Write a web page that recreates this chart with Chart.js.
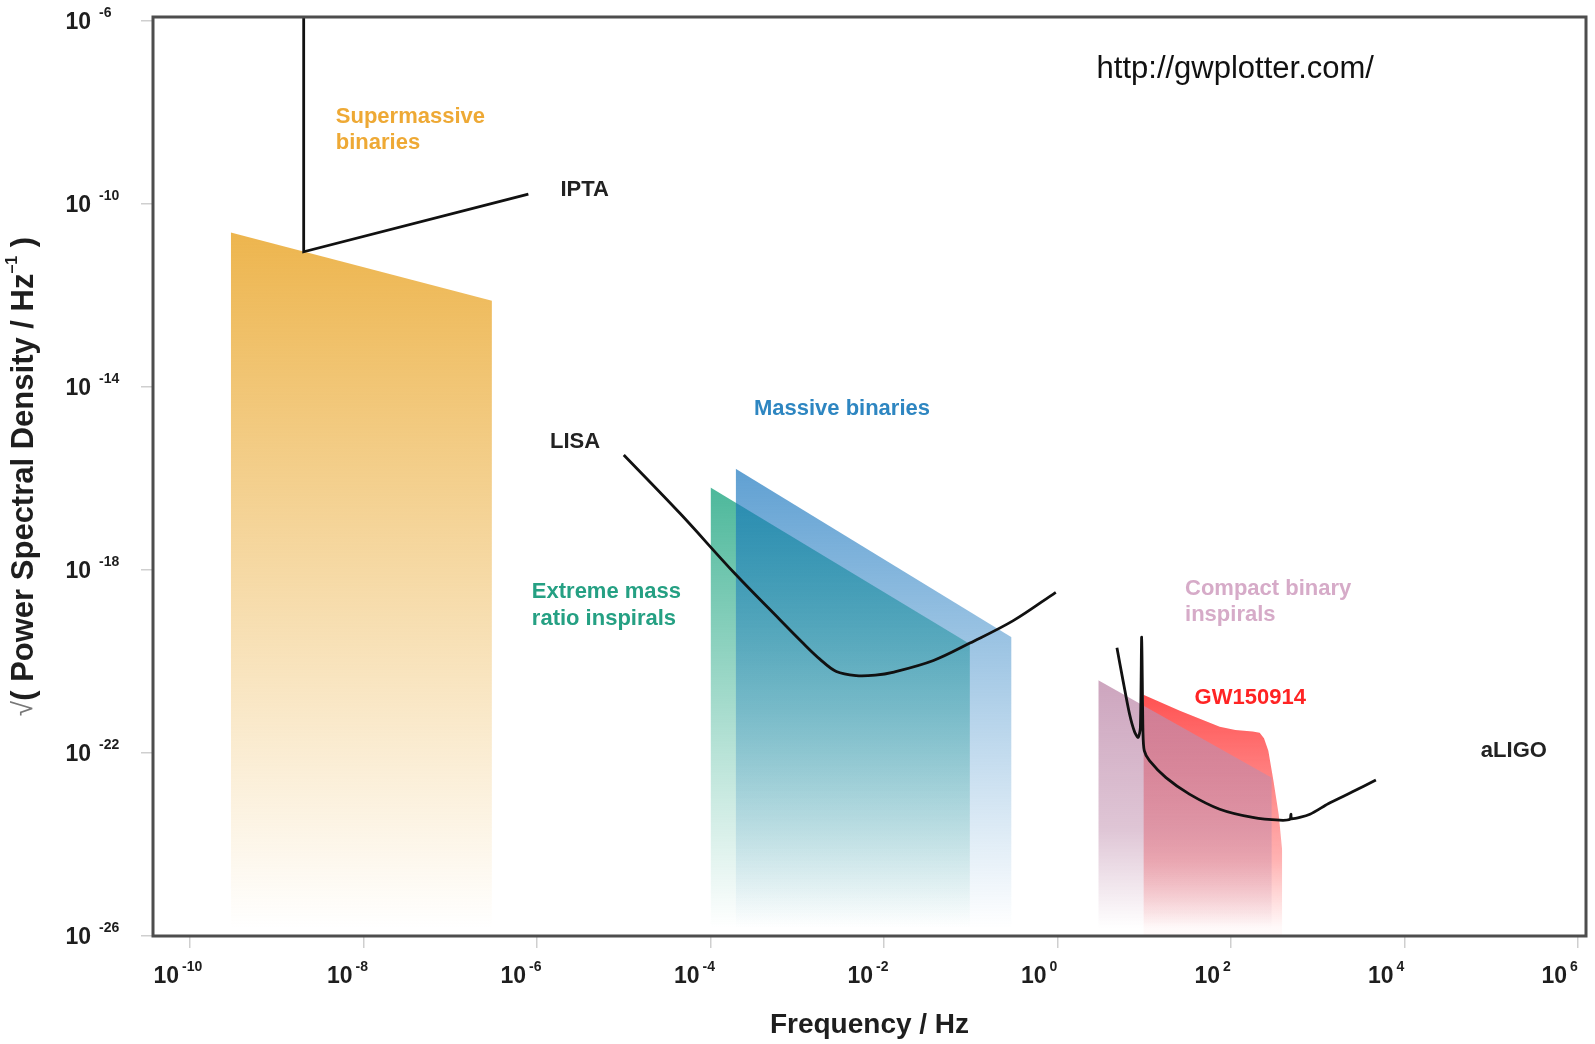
<!DOCTYPE html>
<html>
<head>
<meta charset="utf-8">
<title>Gravitational wave spectrum</title>
<script src="https://cdn.jsdelivr.net/npm/chart.js@4.4.1/dist/chart.umd.min.js"></script>
<style>
  html, body { margin: 0; padding: 0; background: #ffffff; }
  #gw-wrap { width: 1595px; height: 1044px; position: relative; }
</style>
</head>
<body>
<div id="gw-wrap"><canvas id="gw-chart"></canvas></div>
<script>
// Tick decades (labels are drawn as 10^n)
const xTickExps = [-10, -8, -6, -4, -2, 0, 2, 4, 6];
const yTickExps = [-26, -22, -18, -14, -10, -6];

// Values: log10(frequency / Hz) and log10(sqrt(PSD / Hz^-1))
const smbhLogF = [-9.53, -6.52];
const smbhLogH = [-10.63, -12.12];

const iptaLogF = [-8.69, -8.69, -6.10];
const iptaLogH = [-5.92, -11.05, -9.79];

const emriLogF = [-4.00, -1.01];
const emriLogH = [-16.20, -19.62];

const mbhLogF = [-3.71, -0.53];
const mbhLogH = [-15.79, -19.47];

const lisaLogF = [-5.00, -4.35, -3.72, -3.20, -2.95, -2.74, -2.55, -2.32, -2.10, -1.90, -1.43, -1.01, -0.51, -0.02];
const lisaLogH = [-15.49, -16.77, -18.08, -19.09, -19.57, -19.95, -20.22, -20.31, -20.30, -20.24, -19.98, -19.60, -19.11, -18.49];

const cbcLogF = [0.47, 2.47];
const cbcLogH = [-20.41, -22.54];

const gwLogF = [0.99, 1.41, 1.87, 2.05, 2.25, 2.33, 2.38, 2.43, 2.49, 2.55, 2.59];
const gwLogH = [-20.73, -21.08, -21.43, -21.50, -21.53, -21.56, -21.68, -21.95, -22.62, -23.35, -24.14];

const aligoLogF = [0.685, 0.755, 0.83, 0.89, 0.93, 0.955, 0.970, 0.985, 1.00, 1.06, 1.25, 1.52, 1.87, 2.25, 2.56, 2.68, 2.69, 2.70, 2.91, 3.12, 3.40, 3.67];
const aligoLogH = [-19.70, -20.42, -21.15, -21.55, -21.66, -21.45, -19.47, -21.55, -21.95, -22.17, -22.54, -22.90, -23.23, -23.41, -23.47, -23.45, -23.34, -23.44, -23.34, -23.11, -22.85, -22.59];

// Text annotations placed in data coordinates
const notes = [
  { text: 'Supermassive',     f: -8.32, h: -8.11,  color: '#eea935' },
  { text: 'binaries',         f: -8.32, h: -8.68,  color: '#eea935' },
  { text: 'IPTA',             f: -5.73, h: -9.69,  color: '#222222' },
  { text: 'LISA',             f: -5.85, h: -15.20, color: '#222222' },
  { text: 'Massive binaries', f: -3.50, h: -14.49, color: '#2e86c1' },
  { text: 'Extreme mass',     f: -6.06, h: -18.48, color: '#25a083' },
  { text: 'ratio inspirals',  f: -6.06, h: -19.08, color: '#25a083' },
  { text: 'Compact binary',   f: 1.47,  h: -18.41, color: '#d6abc8' },
  { text: 'inspirals',        f: 1.47,  h: -18.99, color: '#d6abc8' },
  { text: 'GW150914',         f: 1.58,  h: -20.79, color: '#ff2424' },
  { text: 'aLIGO',            f: 4.88,  h: -21.95, color: '#222222' }
];

const FONT = "'Liberation Sans', Arial, Helvetica, sans-serif";
Chart.defaults.font.family = FONT;

function toPoints(lf, lh) {
  return lf.map((f, i) => ({ x: Math.pow(10, f), y: Math.pow(10, lh[i]) }));
}

// vertical fade from the top of a band down to the x axis
function fade(rgb, topLog, stops) {
  return function (context) {
    const chart = context.chart;
    const area = chart.chartArea;
    if (!area) return 'rgba(0,0,0,0)';
    const top = chart.scales.y.getPixelForValue(Math.pow(10, topLog));
    const g = chart.ctx.createLinearGradient(0, top, 0, area.bottom - 8);
    stops.forEach(s => g.addColorStop(s[0], 'rgba(' + rgb + ',' + s[1] + ')'));
    return g;
  };
}

function band(label, lf, lh, rgb, stops, order) {
  return {
    label: label,
    data: toPoints(lf, lh),
    fill: 'start',
    backgroundColor: fade(rgb, Math.max.apply(null, lh), stops),
    borderWidth: 0,
    borderColor: 'rgba(0,0,0,0)',
    pointRadius: 0,
    tension: 0,
    order: order
  };
}

function curve(label, lf, lh, tension) {
  return {
    label: label,
    data: toPoints(lf, lh),
    fill: false,
    borderColor: '#111111',
    borderWidth: 2.8,
    pointRadius: 0,
    tension: tension,
    order: 0
  };
}

// tick labels, frame, annotations and axis titles
const gwDecor = {
  id: 'gwDecor',
  afterDatasetsDraw(chart) {
    const ctx = chart.ctx;
    const a = chart.chartArea;
    const xs = chart.scales.x, ys = chart.scales.y;

    ctx.save();
    ctx.strokeStyle = '#4d4d4d';
    ctx.lineWidth = 3;
    ctx.strokeRect(a.left, a.top, a.right - a.left, a.bottom - a.top);

    ctx.textBaseline = 'middle';
    ctx.textAlign = 'left';
    ctx.font = 'bold 22px ' + FONT;
    notes.forEach(n => {
      ctx.fillStyle = n.color;
      ctx.fillText(n.text, xs.getPixelForValue(Math.pow(10, n.f)), ys.getPixelForValue(Math.pow(10, n.h)));
    });
    ctx.fillStyle = '#111111';
    ctx.font = '31px ' + FONT;
    ctx.fillText('http://gwplotter.com/', xs.getPixelForValue(Math.pow(10, 0.45)), ys.getPixelForValue(Math.pow(10, -7.06)));
    ctx.restore();
  },
  afterDraw(chart) {
    const ctx = chart.ctx;
    const a = chart.chartArea;
    const xs = chart.scales.x, ys = chart.scales.y;

    ctx.save();
    ctx.fillStyle = '#1e1e1e';
    ctx.textBaseline = 'alphabetic';

    xs.ticks.forEach(t => {
      const e = Math.round(Math.log10(t.value));
      const px = xs.getPixelForValue(t.value);
      ctx.font = 'bold 23px ' + FONT;
      ctx.textAlign = 'right';
      ctx.fillText('10', px - 11, a.bottom + 47);
      ctx.font = 'bold 14px ' + FONT;
      ctx.textAlign = 'left';
      ctx.fillText(String(e), px - 8, a.bottom + 35);
    });

    ys.ticks.forEach(t => {
      const e = Math.round(Math.log10(t.value));
      const py = ys.getPixelForValue(t.value);
      ctx.font = 'bold 23px ' + FONT;
      ctx.textAlign = 'right';
      ctx.fillText('10', 91, py + 8);
      ctx.font = 'bold 14px ' + FONT;
      ctx.textAlign = 'left';
      ctx.fillText(String(e), 99, py - 4);
    });

    // x title
    ctx.font = 'bold 28px ' + FONT;
    ctx.textAlign = 'center';
    ctx.textBaseline = 'middle';
    ctx.fillText('Frequency / Hz', (a.left + a.right) / 2, 1025);

    // y title, rotated, built from pieces so the root sign and exponent can differ
    const parts = [
      { t: '\u221A', font: '28px ' + FONT, color: '#777777', dy: 0 },
      { t: '( Power Spectral Density / Hz', font: 'bold 31px ' + FONT, color: '#1e1e1e', dy: 0 },
      { t: '\u20131', font: 'bold 16px ' + FONT, color: '#1e1e1e', dy: -11 },
      { t: ' )', font: 'bold 31px ' + FONT, color: '#1e1e1e', dy: 0 }
    ];
    let total = 0;
    parts.forEach(p => { ctx.font = p.font; p.w = ctx.measureText(p.t).width; total += p.w; });
    ctx.translate(24, (a.top + a.bottom) / 2);
    ctx.rotate(-Math.PI / 2);
    ctx.textAlign = 'left';
    let cx = -total / 2;
    parts.forEach(p => {
      ctx.font = p.font;
      ctx.fillStyle = p.color;
      ctx.fillText(p.t, cx, p.dy);
      cx += p.w;
    });
    ctx.restore();
  }
};

const gwChart = new Chart(document.getElementById('gw-chart'), {
  type: 'line',
  data: {
    datasets: [
      curve('IPTA', iptaLogF, iptaLogH, 0),
      curve('LISA', lisaLogF, lisaLogH, 0.35),
      curve('aLIGO', aligoLogF, aligoLogH, 0.25),
      band('Compact binary inspirals', cbcLogF, cbcLogH, '191,140,172', [[0, 0.78], [0.6, 0.5], [1, 0]], 1),
      band('GW150914', gwLogF, gwLogH, '255,82,82', [[0, 1], [0.7, 0.45], [1, 0.03]], 2),
      band('Massive binaries', mbhLogF, mbhLogH, '20,115,189', [[0, 0.68], [1, 0]], 3),
      band('Extreme mass ratio inspirals', emriLogF, emriLogH, '77,184,155', [[0, 1], [1, 0]], 4),
      band('Supermassive binaries', smbhLogF, smbhLogH, '237,181,78', [[0, 1], [1, 0]], 5)
    ]
  },
  options: {
    responsive: true,
    maintainAspectRatio: false,
    animation: false,
    layout: { padding: { top: 17, right: 9, left: 0, bottom: 0 } },
    plugins: {
      legend: { display: false },
      tooltip: { enabled: false }
    },
    scales: {
      x: {
        type: 'logarithmic',
        min: Math.pow(10, -10.427),
        max: Math.pow(10, 6.092),
        afterBuildTicks: s => { s.ticks = xTickExps.map(e => ({ value: Math.pow(10, e) })); },
        afterFit: s => { s.height = 108; },
        ticks: { display: false },
        grid: { drawOnChartArea: false, drawTicks: true, tickLength: 12, color: '#cfcfcf', lineWidth: 1.5 },
        border: { display: false }
      },
      y: {
        type: 'logarithmic',
        min: 1e-26,
        max: Math.pow(10, -5.92),
        afterBuildTicks: s => { s.ticks = yTickExps.map(e => ({ value: Math.pow(10, e) })); },
        afterFit: s => { s.width = 153; },
        ticks: { display: false },
        grid: { drawOnChartArea: false, drawTicks: true, tickLength: 12, color: '#cfcfcf', lineWidth: 1.5 },
        border: { display: false }
      }
    }
  },
  plugins: [gwDecor]
});
</script>
</body>
</html>
